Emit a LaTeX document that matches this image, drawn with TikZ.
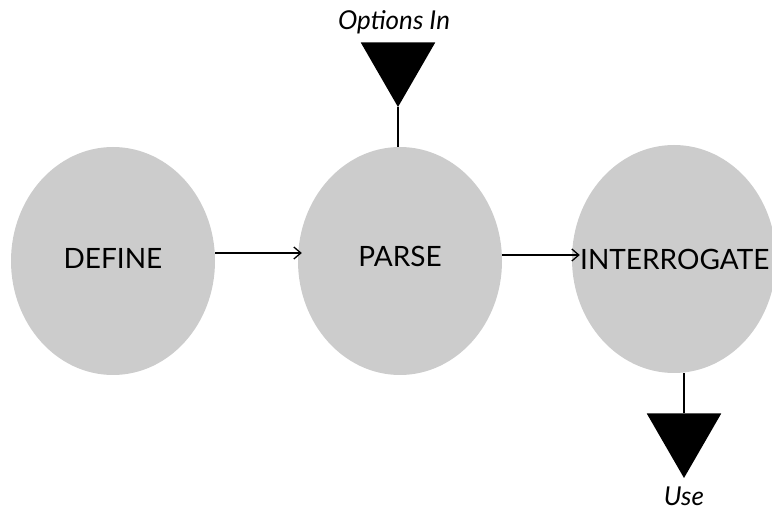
\documentclass[tikz,border=0pt]{standalone}
\usepackage{fontspec}
\setmainfont{Lato}
\usetikzlibrary{shapes.geometric, arrows.meta}

\begin{document}
\begin{tikzpicture}[x=1pt, y=-1pt]
				\tikzstyle{every node}=[inner sep=0pt, align=center]
				\tikzstyle{stage}=[ellipse, fill=black!20, minimum width=204pt, minimum height=228pt]
				\tikzstyle{word}=[font=\fontsize{28}{32}\selectfont]
				\tikzstyle{port}=[regular polygon, regular polygon sides=3, shape border rotate=180, fill=black, minimum size=86pt]
				\tikzstyle{tag}=[font=\fontsize{26}{30}\selectfont\itshape]
				\tikzstyle{flow}=[-{Straight Barb[length=7pt, width=12pt]}, line width=1.3pt]
				\useasboundingbox (0, 0) rectangle (772, 510);
				\node[stage] (define) at (113, 261) {};
				\node[word] (definetext) at (113, 258) {DEFINE};
				\node[stage] (parse) at (400, 261) {};
				\node[word] (parsetext) at (400, 256) {PARSE};
				\node[stage] (interrogate) at (674, 259) {};
				\node[word, anchor=west] (interrogatetext) at (580, 259) {INTERROGATE};
				\node[port] (optin) at (398, 64) {};
				\node[tag] (optlabel) at (394, 22) {Options In};
				\node[port] (use) at (684, 435) {};
				\node[tag] (uselabel) at (684, 496) {Use};
				\draw [flow] ([yshift=8pt]define.east) -- ([yshift=8pt, xshift=4pt]parse.west);
				\draw [flow] ([yshift=6pt]parse.east) -- ([yshift=4pt, xshift=8pt]interrogate.west);
				\draw [line width=1.2pt] (optin.south) -- (optin.south |- parse.north);
				\draw [line width=1.2pt] (use.north |- interrogate.south) -- (use.north);
		\end{tikzpicture}
\end{document}
